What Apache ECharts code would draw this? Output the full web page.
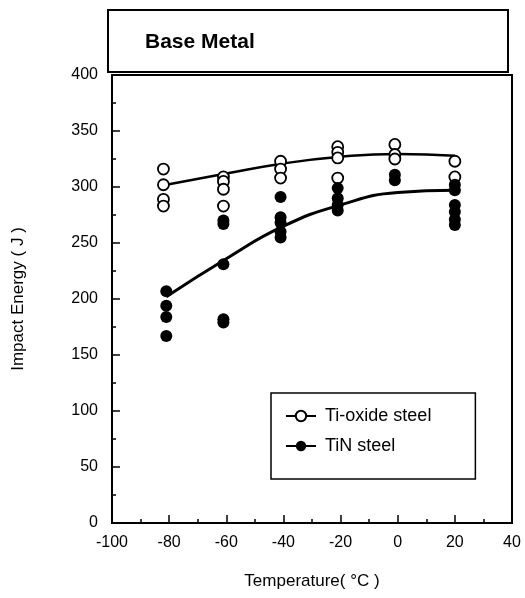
<!DOCTYPE html>
<html>
<head>
<meta charset="utf-8">
<script src="https://cdn.jsdelivr.net/npm/echarts@6/dist/echarts.min.js"></script>
<style>
  html, body { margin: 0; padding: 0; background: #fff; }
  #chart { width: 525px; height: 598px; }
</style>
</head>
<body>
<div id="chart"></div>
<script>
// measured points (temperature in °C, impact energy in J)
const tiOxideTemp   = [-82, -82, -82, -82, -61, -61, -61, -61, -41, -41, -41, -21, -21, -21, -21, -1, -1, -1, 20, 20]
const tiOxideEnergy = [316, 302, 289, 283, 309, 305, 298, 283, 323, 316, 308, 336, 331, 326, 308, 338, 329, 325, 323, 309]
const tinTemp   = [-81, -81, -81, -81, -61, -61, -61, -61, -61, -41, -41, -41, -41, -41, -21, -21, -21, -21, -1, -1, 20, 20, 20, 20, 20, 20]
const tinEnergy = [207, 194, 184, 167, 270, 267, 231, 182, 179, 291, 273, 268, 260, 255, 299, 290, 284, 279, 311, 306, 302, 297, 284, 278, 271, 266]

// fitted curves
const fitTemp = [-81, -60, -40, -20, 0, 20]
const tiOxideFit = [302, 312, 321, 327, 329.5, 328]
const tinFit = [202, 236, 265, 284, 295, 297]

const xTicks = { min: -100, max: 40, interval: 20 }
const yTicks = { min: 0, max: 400, interval: 50 }

const pairs = (xs, ys) => xs.map((x, i) => [x, ys[i]])
const font = "'Liberation Sans', Arial, Helvetica, sans-serif"

let chart = echarts.init(document.getElementById('chart'))
let option = {
  backgroundColor: '#fff',
  animation: false,
  textStyle: { fontFamily: font, color: '#000' },
  grid: {
    left: 112, right: 13, top: 75, bottom: 75,
    show: true, borderColor: '#000', borderWidth: 2
  },
  graphic: [
    {
      type: 'rect',
      shape: { x: 108, y: 10, width: 400, height: 62 },
      style: { fill: '#fff', stroke: '#000', lineWidth: 2 }
    },
    {
      type: 'text',
      x: 145, y: 42,
      style: { text: 'Base Metal', font: 'bold 21px ' + font, fill: '#000', verticalAlign: 'middle' }
    }
  ],
  legend: {
    left: 271, top: 393,
    orient: 'vertical',
    data: ['Ti-oxide steel', 'TiN steel'],
    padding: [14, 44, 24, 14],
    itemGap: 12,
    itemWidth: 30,
    itemHeight: 13,
    borderColor: '#000',
    borderWidth: 1.5,
    backgroundColor: '#fff',
    textStyle: { fontSize: 18, fontFamily: font, color: '#000', padding: [0, 0, 0, 4] }
  },
  xAxis: {
    type: 'value',
    min: xTicks.min, max: xTicks.max, interval: xTicks.interval,
    name: 'Temperature( °C )',
    nameLocation: 'middle',
    nameGap: 50,
    nameTextStyle: { fontSize: 17, fontFamily: font, color: '#000' },
    axisLine: { onZero: false, lineStyle: { color: '#000', width: 2 } },
    axisTick: { inside: true, length: 8, lineStyle: { color: '#000', width: 1.5 } },
    minorTick: { show: true, splitNumber: 2, length: 4, lineStyle: { color: '#000', width: 1.5 } },
    axisLabel: { fontSize: 16, color: '#000', margin: 12, fontFamily: font },
    splitLine: { show: false }
  },
  yAxis: {
    type: 'value',
    min: yTicks.min, max: yTicks.max, interval: yTicks.interval,
    name: 'Impact Energy ( J )',
    nameLocation: 'middle',
    nameGap: 85,
    nameTextStyle: { fontSize: 17, fontFamily: font, color: '#000' },
    axisLine: { onZero: false, lineStyle: { color: '#000', width: 2 } },
    axisTick: { inside: true, length: 8, lineStyle: { color: '#000', width: 1.5 } },
    minorTick: { show: true, splitNumber: 2, length: 4, lineStyle: { color: '#000', width: 1.5 } },
    axisLabel: { fontSize: 16, color: '#000', margin: 14, fontFamily: font },
    splitLine: { show: false }
  },
  series: [
    {
      name: 'Ti-oxide steel',
      type: 'line',
      data: pairs(fitTemp, tiOxideFit),
      smooth: 0.5,
      symbol: 'circle',
      showSymbol: false,
      lineStyle: { color: '#000', width: 2.5 },
      itemStyle: { color: '#fff', borderColor: '#000', borderWidth: 1.5 },
      z: 2
    },
    {
      name: 'TiN steel',
      type: 'line',
      data: pairs(fitTemp, tinFit),
      smooth: 0.5,
      symbol: 'circle',
      showSymbol: false,
      lineStyle: { color: '#000', width: 3 },
      itemStyle: { color: '#000' },
      z: 2
    },
    {
      name: 'Ti-oxide steel',
      type: 'scatter',
      data: pairs(tiOxideTemp, tiOxideEnergy),
      symbolSize: 11,
      itemStyle: { color: '#fff', borderColor: '#000', borderWidth: 1.8, opacity: 1 },
      z: 3
    },
    {
      name: 'TiN steel',
      type: 'scatter',
      data: pairs(tinTemp, tinEnergy),
      symbolSize: 12,
      itemStyle: { color: '#000', opacity: 1 },
      z: 3
    }
  ]
}
chart.setOption(option)
</script>
</body>
</html>
